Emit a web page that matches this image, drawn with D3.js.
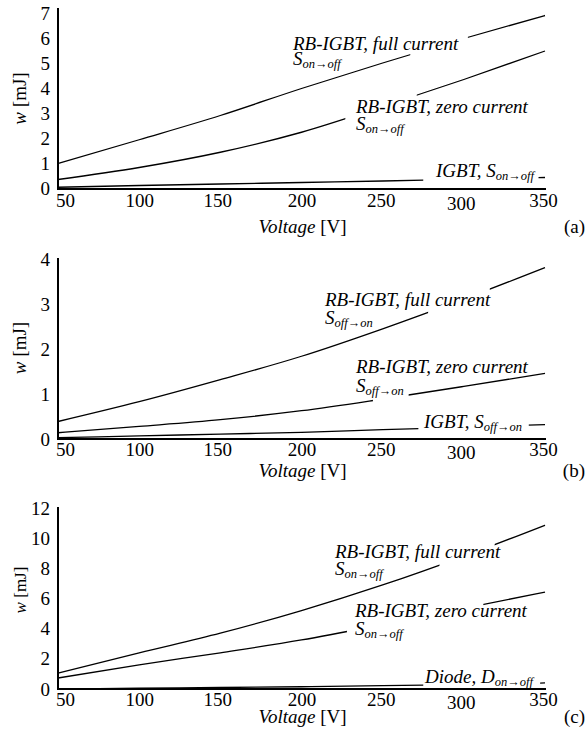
<!DOCTYPE html>
<html><head><meta charset="utf-8">
<script src="https://cdn.jsdelivr.net/npm/d3@7"></script>
<style>
html,body{margin:0;padding:0;background:#fff;}
svg{display:block;font-family:"Liberation Serif","Times New Roman",serif;}
</style></head><body>
<svg id="chart" width="586" height="740"></svg>
<script>
// ---------- data ----------
const voltages = [50, 100, 150, 200, 250, 300, 350];
const xTickValues = [50, 100, 150, 200, 250, 300, 350];

// panel (a)  S on->off
const aFullCurrent = [1.0, 1.95, 2.92, 4.0, 5.02, 6.0, 6.92];
const aZeroCurrent = [0.36, 0.84, 1.45, 2.25, 3.28, 4.36, 5.5];
const aIgbt        = [0.05, 0.12, 0.18, 0.24, 0.30, 0.37, 0.44];
const aYTicks = [0, 1, 2, 3, 4, 5, 6, 7];

// panel (b)  S off->on
const bFullCurrent = [0.4, 0.84, 1.33, 1.85, 2.46, 3.12, 3.82];
const bZeroCurrent = [0.15, 0.29, 0.44, 0.64, 0.9, 1.18, 1.47];
const bIgbt        = [0.04, 0.08, 0.12, 0.16, 0.22, 0.27, 0.33];
const bYTicks = [0, 1, 2, 3, 4];

// panel (c)
const cFullCurrent = [1.06, 2.4, 3.7, 5.2, 6.9, 8.8, 10.86];
const cZeroCurrent = [0.73, 1.6, 2.4, 3.25, 4.27, 5.35, 6.42];
const cDiode       = [0.0, 0.05, 0.1, 0.15, 0.22, 0.3, 0.4];
const cYTicks = [0, 2, 4, 6, 8, 10, 12];

const labelOnOff = "on\u2192off";
const labelOffOn = "off\u2192on";

// ---------- layout ----------
const FONT = 19;
const SUB = 12.5;
const x = d3.scaleLinear().domain([50, 350]).range([58, 545]);

const panels = [
  { id: "a", yMax: 7, yTicks: aYTicks, y0: 188.5, yTop: 13.5, axisY: 189, axisTop: 8,
    tickPad: 5, titleY: 233, yTitleY: 98.5, yTitleSize: 19,
    series: [
      { values: aFullCurrent, gap: [267, 302.5], lx: 293, ly: 50, gapLine: 14.5,
        lines: [[{ t: "RB-IGBT, full current" }], [{ t: "S" }, { t: labelOnOff, sub: true }]] },
      { values: aZeroCurrent, gap: [227, 271], lx: 356, ly: 113, gapLine: 16.5,
        lines: [[{ t: "RB-IGBT, zero current" }], [{ t: "S" }, { t: labelOnOff, sub: true }]] },
      { values: aIgbt, gap: [275, 346], lx: 436, ly: 177, gapLine: 0,
        lines: [[{ t: "IGBT, S" }, { t: labelOnOff, sub: true }]] }
    ] },
  { id: "b", yMax: 4, yTicks: bYTicks, y0: 439.5, yTop: 259.5, axisY: 439, axisTop: 258,
    tickPad: 3, titleY: 477, yTitleY: 348, yTitleSize: 19,
    series: [
      { values: bFullCurrent, gap: [278, 316], lx: 325, ly: 306, gapLine: 18,
        lines: [[{ t: "RB-IGBT, full current" }], [{ t: "S" }, { t: labelOffOn, sub: true }]] },
      { values: bZeroCurrent, gap: [244, 266], lx: 356, ly: 373, gapLine: 19,
        lines: [[{ t: "RB-IGBT, zero current" }], [{ t: "S" }, { t: labelOffOn, sub: true }]] },
      { values: bIgbt, gap: [272, 340], lx: 424, ly: 428, gapLine: 0,
        lines: [[{ t: "IGBT, S" }, { t: labelOffOn, sub: true }]] }
    ] },
  { id: "c", yMax: 12, yTicks: cYTicks, y0: 689, yTop: 508, axisY: 689, axisTop: 507,
    tickPad: 3.5, titleY: 723, yTitleY: 590, yTitleSize: 17,
    series: [
      { values: cFullCurrent, gap: [285, 319], lx: 335, ly: 558, gapLine: 17,
        lines: [[{ t: "RB-IGBT, full current" }], [{ t: "S" }, { t: labelOnOff, sub: true }]] },
      { values: cZeroCurrent, gap: [228, 312], lx: 355, ly: 617, gapLine: 18,
        lines: [[{ t: "RB-IGBT, zero current" }], [{ t: "S" }, { t: labelOnOff, sub: true }]] },
      { values: cDiode, gap: [275, 347], lx: 425, ly: 683, gapLine: 0,
        lines: [[{ t: "Diode, D" }, { t: labelOnOff, sub: true }]] }
    ] }
];

// small nudges of x tick labels as in the reference
const tickNudge = { 50: [7, 0], 150: [-3, 0], 250: [-2, 0], 300: [-3, 3], 350: [-2, 0] };

const svg = d3.select("#chart");
const defs = svg.append("defs");

panels.forEach(p => {
  const y = d3.scaleLinear().domain([0, p.yMax]).range([p.y0, p.yTop]);
  const g = svg.append("g").attr("class", "panel-" + p.id);

  // curves
  const line = d3.line().x(d => x(d[0])).y(d => y(d[1])).curve(d3.curveMonotoneX);
  p.series.forEach((s, i) => {
    const cid = `clip-${p.id}-${i}`;
    const cp = defs.append("clipPath").attr("id", cid);
    cp.append("rect").attr("x", 0).attr("y", 0).attr("width", x(s.gap[0])).attr("height", 740);
    cp.append("rect").attr("x", x(s.gap[1])).attr("y", 0).attr("width", 586 - x(s.gap[1])).attr("height", 740);
    g.append("path")
      .datum(voltages.map((v, j) => [v, s.values[j]]))
      .attr("d", line)
      .attr("fill", "none")
      .attr("stroke", "#000")
      .attr("stroke-width", 1.3)
      .attr("clip-path", `url(#${cid})`);

    // label
    s.lines.forEach((ln, k) => {
      const t = g.append("text")
        .attr("x", s.lx)
        .attr("y", s.ly + k * s.gapLine)
        .attr("font-size", FONT)
        .attr("font-style", "italic")
        .attr("fill", "#000");
      ln.forEach(part => {
        if (part.sub) {
          t.append("tspan").attr("font-size", SUB).attr("dy", 3).text(part.t);
        } else {
          t.append("tspan").text(part.t);
        }
      });
    });
  });

  // x axis
  const xa = g.append("g")
    .attr("transform", `translate(0,${p.axisY})`)
    .call(d3.axisBottom(x).tickValues(xTickValues).tickSize(0).tickPadding(p.tickPad).tickFormat(d3.format("d")));
  xa.attr("font-size", FONT).attr("font-family", null);
  xa.select(".domain").attr("stroke", "#000").attr("stroke-width", 2).attr("d", `M${x(50) - 1},0H${x(350) + 1}`);
  xa.selectAll(".tick text").attr("fill", "#000")
    .attr("dx", d => (tickNudge[d] ? tickNudge[d][0] : 0))
    .attr("transform", d => (tickNudge[d] ? `translate(0,${tickNudge[d][1]})` : null));

  // y axis
  const ya = g.append("g")
    .attr("transform", `translate(${x(50)},0)`)
    .call(d3.axisLeft(y).tickValues(p.yTicks).tickSize(0).tickPadding(8).tickFormat(d3.format("d")));
  ya.attr("font-size", FONT).attr("font-family", null);
  ya.select(".domain").remove();
  ya.selectAll(".tick text").attr("fill", "#000");
  g.append("line")
    .attr("x1", x(50)).attr("x2", x(50))
    .attr("y1", p.axisTop).attr("y2", p.axisY + 1)
    .attr("stroke", "#000").attr("stroke-width", 2);

  // x title
  const xt = g.append("text")
    .attr("x", (x(50) + x(350)) / 2 + 1)
    .attr("y", p.titleY)
    .attr("text-anchor", "middle")
    .attr("font-size", FONT)
    .attr("fill", "#000");
  xt.append("tspan").attr("font-style", "italic").text("Voltage");
  xt.append("tspan").text(" [V]");

  // panel letter
  g.append("text")
    .attr("x", 585)
    .attr("y", p.titleY)
    .attr("text-anchor", "end")
    .attr("font-size", FONT)
    .attr("fill", "#000")
    .text(`(${p.id})`);

  // y title
  const yt = g.append("text")
    .attr("transform", `translate(26,${p.yTitleY}) rotate(-90)`)
    .attr("text-anchor", "middle")
    .attr("font-size", p.yTitleSize)
    .attr("fill", "#000");
  yt.append("tspan").attr("font-style", "italic").text("w");
  yt.append("tspan").text(" [mJ]");
});
</script>
</body></html>
